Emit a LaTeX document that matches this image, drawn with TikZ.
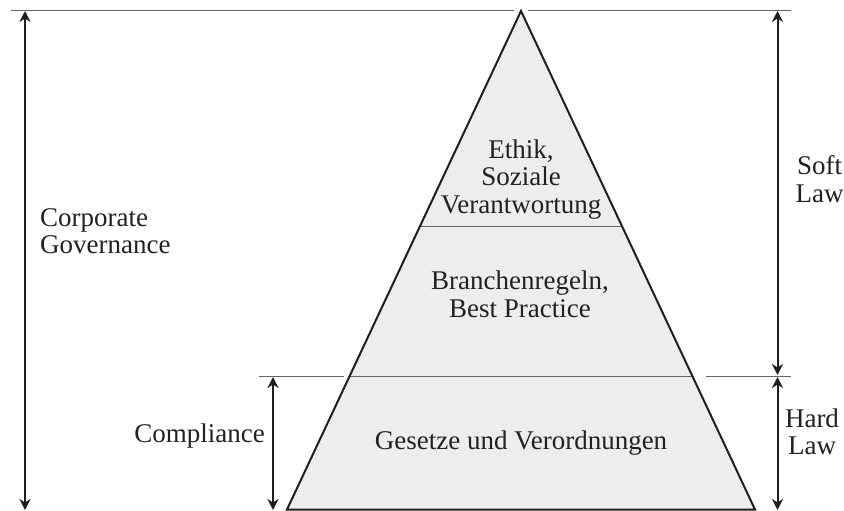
\documentclass[tikz,border=0pt]{standalone}
\usepackage{fontspec}
\setmainfont{Liberation Serif}
\usetikzlibrary{arrows.meta}
\begin{document}
\begin{tikzpicture}[x=1pt,y=-1pt,
  txt/.style={font=\fontsize{27}{27.5}\selectfont, text=black!87, inner sep=0pt, align=center},
  guide/.style={draw=black!60, line width=0.9pt},
  pyr/.style={draw=black!88, line width=2pt, line join=miter},
  dimarrow/.style={draw=black!88, line width=2pt,
    {Stealth[length=11pt,width=11pt,inset=3.5pt]}-{Stealth[length=11pt,width=11pt,inset=3.5pt]}},
]
\useasboundingbox (0,0) rectangle (844,511);
% pyramid corners
\coordinate (apex) at (521,11);
\coordinate (bl) at (287,509.5);
\coordinate (br) at (755,509.5);
\fill[black!7] (apex) -- (bl) -- (br) -- cycle;
% level lines inside pyramid
\path (apex) -- (bl) coordinate[pos=0.4313] (ul) coordinate[pos=0.7322] (hl);
\path (apex) -- (br) coordinate[pos=0.4313] (ur) coordinate[pos=0.7322] (hr);
\draw[guide] (ul) -- (ur);
\draw[guide] (hl) -- (hr);
% guide lines outside
\coordinate (t1) at (11,10);
\coordinate (t2) at (514,10);
\coordinate (t3) at (528,10);
\coordinate (t4) at (791,10);
\draw[guide] (t1) -- (t2);
\draw[guide] (t3) -- (t4);
\coordinate (h1) at (259,376);
\coordinate (h2) at (344,376);
\coordinate (h3) at (706,376);
\coordinate (h4) at (791,376);
\draw[guide] (h1) -- (h2);
\draw[guide] (h3) -- (h4);
% pyramid outline
\draw[pyr] (apex) -- (bl) -- (br) -- cycle;
% dimension arrows
\coordinate (cgT) at (25,11);
\coordinate (cgB) at (25,510);
\draw[dimarrow] (cgT) -- (cgB);
\coordinate (coT) at (273,377);
\coordinate (coB) at (273,510);
\draw[dimarrow] (coT) -- (coB);
\coordinate (slT) at (777.5,11);
\coordinate (slB) at (777.5,375);
\draw[dimarrow] (slT) -- (slB);
\coordinate (hlT) at (777.5,377);
\coordinate (hlB) at (777.5,510);
\draw[dimarrow] (hlT) -- (hlB);
% texts
\node[txt] (ethik) at (521,179.5) {Ethik,\\Soziale\\Verantwortung};
\node[txt] (branche) at (520,294.3) {Branchenregeln,\\Best Practice};
\node[txt, anchor=base] (gesetze) at (521,449) {Gesetze und Verordnungen};
\node[txt, anchor=base east] (compl) at (265,442) {Compliance};
\node[txt, align=left, anchor=west] (cg) at (40,231) {Corporate\\Governance};
\node[txt] (soft) at (819.5,179.3) {Soft\\Law};
\node[txt] (hard) at (812,431.8) {Hard\\Law};
\end{tikzpicture}
\end{document}
